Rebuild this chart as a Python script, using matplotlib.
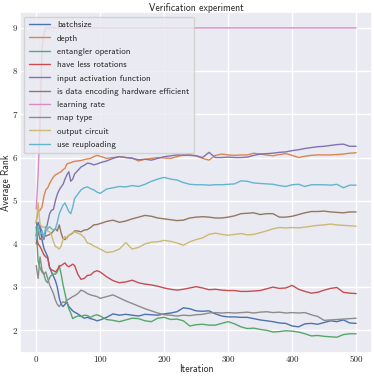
import matplotlib
matplotlib.use("Agg")
import matplotlib.pyplot as plt
import seaborn as sns

# sampling grid of the curves (iteration numbers)
iters = list(range(0, 61, 3)) + list(range(65, 101, 5)) + list(range(110, 501, 10))

labels = [
    "batchsize",
    "depth",
    "entangler operation",
    "have less rotations",
    "input activation function",
    "is data encoding hardware efficient",
    "learning rate",
    "map type",
    "output circuit",
    "use reuploading",
]

batchsize = [
    4.2, 4.5, 4.4, 4.1, 3.9, 3.8, 3.7, 3.45, 3.35, 3.25, 3.15, 3.0, 2.75, 2.6, 2.55, 2.6, 2.65, 2.55, 2.5, 2.45, 2.42,
    2.38, 2.33, 2.28, 2.3, 2.27, 2.25, 2.22, 2.24,
    2.3, 2.38, 2.35, 2.37, 2.35, 2.33, 2.37, 2.36, 2.35, 2.38, 2.4, 2.43, 2.52, 2.5, 2.45, 2.44, 2.45, 2.38, 2.33, 2.31,
    2.31, 2.3, 2.3, 2.27, 2.24, 2.22, 2.2, 2.17, 2.16, 2.1, 2.08, 2.15, 2.16, 2.14, 2.18, 2.22, 2.2, 2.24, 2.17, 2.16,
]
depth = [
    4.5, 4.75, 4.78, 4.85, 5.1, 5.25, 5.3, 5.4, 5.48, 5.55, 5.6, 5.62, 5.65, 5.67, 5.72, 5.75, 5.85, 5.87, 5.88, 5.9, 5.91,
    5.92, 5.93, 5.95, 5.97, 5.98, 6.02, 6.05, 6.03,
    5.98, 6.0, 6.02, 6.0, 5.99, 5.92, 5.96, 5.98, 6.0, 5.99, 5.98, 6.02, 6.06, 6.05, 6.04, 5.98, 5.94, 6.05, 6.08, 6.06,
    6.05, 6.06, 6.06, 6.1, 6.08, 6.06, 6.04, 6.07, 6.09, 6.05, 6.0, 6.03, 6.05, 6.06, 6.06, 6.06, 6.07, 6.08, 6.1, 6.11,
]
entangler = [
    4.4, 3.6, 3.45, 3.35, 3.3, 3.15, 3.1, 3.22, 3.28, 3.3, 3.3, 3.35, 3.5, 3.3, 3.05, 2.85, 2.65, 2.5, 2.4, 2.27, 2.3,
    2.33, 2.32, 2.35, 2.34, 2.3, 2.34, 2.36, 2.33,
    2.25, 2.23, 2.2, 2.24, 2.28, 2.27, 2.22, 2.2, 2.28, 2.3, 2.25, 2.26, 2.22, 2.1, 2.13, 2.14, 2.12, 2.12, 2.16, 2.2,
    2.15, 2.08, 2.04, 2.05, 2.02, 2.0, 1.96, 1.97, 1.99, 1.98, 1.96, 1.92, 1.87, 1.88, 1.86, 1.85, 1.84, 1.9, 1.92, 1.92,
]
less_rotations = [
    4.2, 4.0, 3.94, 3.85, 3.75, 3.7, 3.67, 3.45, 3.4, 3.38, 3.35, 3.4, 3.48, 3.5, 3.53, 3.56, 3.5, 3.47, 3.5, 3.53, 3.5,
    3.3, 3.18, 3.2, 3.27, 3.28, 3.35, 3.38, 3.35,
    3.24, 3.15, 3.1, 3.12, 3.16, 3.1, 3.07, 3.05, 3.02, 2.98, 2.95, 2.93, 2.95, 2.98, 3.01, 2.98, 2.94, 2.95, 2.93, 2.92,
    2.92, 2.9, 2.9, 2.91, 2.92, 2.96, 3.0, 2.97, 2.98, 3.04, 2.95, 2.9, 2.86, 2.88, 2.93, 2.97, 2.99, 2.88, 2.86, 2.85,
]
activation = [
    4.5, 4.3, 4.4, 4.3, 4.1, 4.3, 4.5, 4.7, 4.78, 4.8, 5.0, 5.15, 5.25, 5.32, 5.38, 5.5, 5.6, 5.67, 5.45, 5.5, 5.62,
    5.7, 5.78, 5.82, 5.87, 5.86, 5.83, 5.85, 5.88,
    5.92, 5.98, 6.02, 6.0, 5.98, 5.95, 5.96, 5.94, 5.98, 6.02, 6.04, 6.06, 6.05, 6.06, 6.04, 6.0, 6.12, 6.0, 6.0, 6.01,
    6.0, 6.0, 6.01, 6.05, 6.08, 6.09, 6.1, 6.12, 6.13, 6.16, 6.18, 6.21, 6.23, 6.25, 6.26, 6.28, 6.3, 6.31, 6.26, 6.26,
]
hw_efficient = [
    4.0, 4.3, 4.1, 4.15, 4.2, 4.18, 4.2, 4.22, 4.25, 4.3, 4.35, 4.3, 4.44, 4.25, 4.12, 4.1, 4.15, 4.2, 4.22, 4.25, 4.3,
    4.3, 4.28, 4.32, 4.33, 4.38, 4.44, 4.45, 4.47,
    4.52, 4.55, 4.5, 4.53, 4.58, 4.62, 4.66, 4.64, 4.6, 4.58, 4.56, 4.54, 4.55, 4.6, 4.62, 4.63, 4.62, 4.6, 4.6, 4.62,
    4.65, 4.7, 4.71, 4.72, 4.68, 4.7, 4.7, 4.62, 4.62, 4.64, 4.68, 4.72, 4.75, 4.75, 4.76, 4.74, 4.73, 4.72, 4.74, 4.74,
]
learning_rate = [
    4.8, 5.6, 6.8, 8.5, 8.85, 9.0, 9.0, 9.0, 9.0, 9.0, 9.0, 9.0, 9.0, 9.0, 9.0, 9.0, 9.0, 9.0, 9.0, 9.0, 9.0,
    9.0, 9.0, 9.0, 9.0, 9.0, 9.0, 9.0, 9.0,
    9.0, 9.0, 9.0, 9.0, 9.0, 9.0, 9.0, 9.0, 9.0, 9.0, 9.0, 9.0, 9.0, 9.0, 9.0, 9.0, 9.0, 9.0, 9.0, 9.0,
    9.0, 9.0, 9.0, 9.0, 9.0, 9.0, 9.0, 9.0, 9.0, 9.0, 9.0, 9.0, 9.0, 9.0, 9.0, 9.0, 9.0, 9.0, 9.0, 9.0,
]
map_type = [
    3.5, 3.2, 3.7, 3.4, 3.3, 3.35, 3.2, 3.05, 2.95, 2.85, 2.7, 2.6, 2.55, 2.62, 2.66, 2.64, 2.7, 2.72, 2.75, 2.78, 2.8,
    2.85, 2.93, 2.9, 2.85, 2.82, 2.8, 2.78, 2.74,
    2.78, 2.82, 2.75, 2.68, 2.62, 2.56, 2.5, 2.45, 2.4, 2.36, 2.35, 2.33, 2.35, 2.34, 2.36, 2.37, 2.4, 2.41, 2.4, 2.41,
    2.4, 2.41, 2.42, 2.4, 2.42, 2.43, 2.41, 2.42, 2.4, 2.41, 2.4, 2.41, 2.36, 2.32, 2.23, 2.24, 2.25, 2.26, 2.27, 2.28,
]
output_circuit = [
    4.5, 4.95, 4.45, 4.4, 4.38, 4.4, 4.3, 4.28, 4.2, 4.05, 3.94, 3.92, 3.88, 3.95, 4.1, 4.17, 4.12, 4.2, 4.23, 4.26, 4.28,
    4.25, 4.22, 4.15, 4.02, 4.0, 3.95, 3.92, 3.88,
    3.8, 3.82, 3.88, 4.03, 3.88, 3.92, 4.0, 4.04, 4.05, 4.08, 4.06, 4.02, 3.97, 4.05, 4.1, 4.14, 4.22, 4.25, 4.22, 4.2,
    4.22, 4.24, 4.21, 4.22, 4.26, 4.3, 4.35, 4.38, 4.37, 4.38, 4.37, 4.39, 4.41, 4.43, 4.44, 4.46, 4.44, 4.43, 4.42, 4.41,
]
reuploading = [
    4.1, 4.4, 4.2, 4.3, 4.15, 4.4, 4.35, 4.4, 4.35, 4.32, 4.35, 4.5, 4.7, 4.8, 4.9, 4.95, 4.85, 4.75, 4.7, 4.85, 5.05,
    5.15, 5.25, 5.3, 5.32, 5.28, 5.25, 5.2, 5.17,
    5.27, 5.3, 5.33, 5.32, 5.35, 5.33, 5.38, 5.45, 5.5, 5.54, 5.5, 5.48, 5.42, 5.38, 5.37, 5.37, 5.36, 5.37, 5.37, 5.38,
    5.39, 5.46, 5.45, 5.41, 5.4, 5.39, 5.38, 5.35, 5.33, 5.37, 5.38, 5.33, 5.37, 5.37, 5.37, 5.36, 5.38, 5.3, 5.36, 5.36,
]

series = [batchsize, depth, entangler, less_rotations, activation,
          hw_efficient, learning_rate, map_type, output_circuit, reuploading]

sns.set_theme(style="darkgrid")
colors = sns.color_palette("deep", 10)

fig = plt.figure(figsize=(3.74, 3.78), dpi=100)
ax = fig.add_axes([0.054, 0.067, 0.941, 0.9])

for label, values, c in zip(labels, series, colors):
    ax.plot(iters, values, color=c, lw=1.0, label=label)

ax.set_title("Verification experiment", fontfamily="cmss10", fontsize=7, pad=1)
ax.set_xlabel("Iteration", fontfamily="cmss10", fontsize=7, labelpad=0)
ax.set_ylabel("Average Rank", fontfamily="cmss10", fontsize=7, labelpad=1)
ax.set_xticks([0, 100, 200, 300, 400, 500])
ax.set_yticks([2, 3, 4, 5, 6, 7, 8, 9])
ax.tick_params(labelsize=6.5, pad=2, length=0)
for t in ax.get_xticklabels() + ax.get_yticklabels():
    t.set_fontfamily("cmr10")

ax.legend(loc="upper left", prop={"family": "cmss10", "size": 6.5},
          handlelength=2.3, handletextpad=0.8, labelspacing=0.55,
          borderpad=0.5, borderaxespad=0.45)

fig.savefig("out.png", dpi=100)
